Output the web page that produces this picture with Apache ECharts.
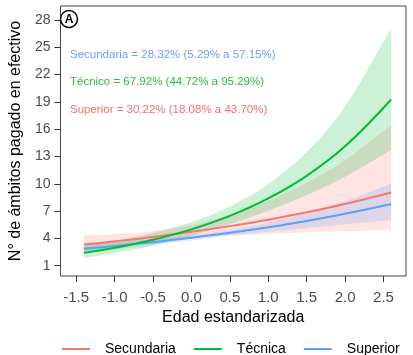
<!DOCTYPE html>
<html><head><meta charset="utf-8">
<script src="https://cdn.jsdelivr.net/npm/echarts@6/dist/echarts.min.js"></script>
<style>html,body{margin:0;padding:0;background:#fff}#c{width:413px;height:355px}</style>
</head><body><div id="c"></div><script>
// Edad estandarizada (x positions of the fitted curves)
const xs = [-1.4, -1.0, -0.5, 0, 0.5, 1.0, 1.5, 2.0, 2.6];
// Secundaria
const secFit = [3.33, 3.68, 4.16, 4.72, 5.35, 6.06, 6.87, 7.78, 9.04];
const secLo  = [2.57, 3.02, 3.61, 4.07, 4.33, 4.51, 4.66, 4.80, 4.96];
const secHi  = [4.32, 4.48, 4.80, 5.48, 6.61, 8.14, 10.12, 12.61, 16.47];
// Técnica
const tecFit = [2.41, 2.97, 3.85, 4.99, 6.47, 8.39, 10.88, 14.12, 19.27];
const tecLo  = [1.84, 2.37, 3.21, 4.29, 5.57, 7.05, 8.76, 10.78, 13.72];
const tecHi  = [3.16, 3.73, 4.61, 5.81, 7.51, 9.98, 13.51, 18.50, 27.07];
// Superior
const supFit = [2.87, 3.17, 3.59, 4.07, 4.61, 5.22, 5.91, 6.70, 7.78];
const supLo  = [2.47, 2.81, 3.28, 3.79, 4.31, 4.74, 5.13, 5.55, 6.03];
const supHi  = [3.33, 3.57, 3.93, 4.37, 4.93, 5.75, 6.80, 8.09, 10.04];

const xTicks = [-1.5, -1.0, -0.5, 0, 0.5, 1.0, 1.5, 2.0, 2.5];
const yTicks = [1, 4, 7, 10, 13, 16, 19, 22, 25, 28];
const seriesNames = ['Secundaria', 'Técnica', 'Superior'];
const annotations = [
  'Secundaria = 28.32% (5.29% a 57.15%)',
  'Técnico = 67.92% (44.72% a 95.29%)',
  'Superior = 30.22% (18.08% a 43.70%)'
];

const FONT = 'Liberation Sans, Arial, sans-serif';
const cols = ['#F8766D', '#00BA38', '#619CFF'];
const bands = ['rgba(248,118,109,0.2)', 'rgba(0,186,56,0.2)', 'rgba(97,156,255,0.2)'];
const annCols = ['#6E9EF5', '#2DB845', '#F2706B'];

const fits = [secFit, tecFit, supFit];
const los = [secLo, tecLo, supLo];
const his = [secHi, tecHi, supHi];
const bandOrder = [0, 2, 1];

// Cubic Hermite (Catmull-Rom) rendering of a pixel-space polyline
function smoothPath(p) {
  const n = p.length, out = [];
  const tan = i => {
    const a = p[Math.max(i - 1, 0)], b = p[Math.min(i + 1, n - 1)];
    const f = (i === 0 || i === n - 1) ? 1 : 0.5;
    return [(b[0] - a[0]) * f, (b[1] - a[1]) * f];
  };
  for (let i = 0; i < n - 1; i++) {
    const m0 = tan(i), m1 = tan(i + 1), p0 = p[i], p1 = p[i + 1];
    for (let s = 0; s < 12; s++) {
      const t = s / 12, t2 = t * t, t3 = t2 * t;
      const h00 = 2 * t3 - 3 * t2 + 1, h10 = t3 - 2 * t2 + t, h01 = -2 * t3 + 3 * t2, h11 = t3 - t2;
      out.push([h00 * p0[0] + h10 * m0[0] + h01 * p1[0] + h11 * m1[0],
                h00 * p0[1] + h10 * m0[1] + h01 * p1[1] + h11 * m1[1]]);
    }
  }
  out.push(p[n - 1]);
  return out;
}

const series = [{
  type: 'custom', name: 'bands', silent: true, z: 1,
  data: bandOrder.map(k => [xs[0], los[k][0]]),
  renderItem: (params, api) => {
    const k = bandOrder[params.dataIndex];
    const up = xs.map((x, i) => api.coord([x, his[k][i]]));
    const dn = xs.map((x, i) => api.coord([x, los[k][i]]));
    const pts = smoothPath(up).concat(smoothPath(dn).reverse());
    return { type: 'polygon', shape: { points: pts }, style: { fill: bands[k] } };
  }
}];
[2, 0, 1].forEach(k => {
  series.push({
    type: 'line', name: seriesNames[k], data: xs.map((x, i) => [x, fits[k][i]]), smooth: 0.4,
    symbol: 'none', lineStyle: { color: cols[k], width: 2 }, itemStyle: { color: cols[k] }, z: 3
  });
});

const graphic = annotations.map((t, i) => ({
  type: 'text', x: 70, y: [55, 82, 110][i],
  style: { text: t, fill: annCols[i], font: '11.5px ' + FONT, verticalAlign: 'middle' }
}));
graphic.push({ type: 'circle', shape: { cx: 69, cy: 19, r: 8.5 }, style: { fill: '#fff', stroke: '#000', lineWidth: 1.5 }, z: 10 });
graphic.push({ type: 'text', x: 69, y: 19.5, style: { text: 'A', fill: '#000', font: 'bold 12px ' + FONT, align: 'center', verticalAlign: 'middle' }, z: 11 });

const chart = echarts.init(document.getElementById('c'));
chart.setOption({
  animation: false,
  backgroundColor: '#fff',
  textStyle: { fontFamily: FONT },
  grid: { left: 53, right: 7, top: 6, bottom: 79, show: true, borderColor: '#444', borderWidth: 1, backgroundColor: 'transparent' },
  xAxis: {
    type: 'value', min: -1.704, max: 2.793,
    axisLine: { show: false, onZero: false }, splitLine: { show: false },
    axisTick: { show: true, length: 6, lineStyle: { color: '#333' }, customValues: xTicks },
    axisLabel: { customValues: xTicks, formatter: v => v.toFixed(1), color: '#4d4d4d', fontSize: 15, margin: 14, fontFamily: FONT },
    name: 'Edad estandarizada', nameLocation: 'middle', nameGap: 33,
    nameTextStyle: { color: '#000', fontSize: 16, fontFamily: FONT }
  },
  yAxis: {
    type: 'value', min: -0.13, max: 29.54,
    axisLine: { show: false, onZero: false }, splitLine: { show: false },
    axisTick: { show: true, length: 6, lineStyle: { color: '#333' }, customValues: yTicks },
    axisLabel: { customValues: yTicks, color: '#4d4d4d', fontSize: 14, margin: 10, fontFamily: FONT },
    name: 'N° de ámbitos pagado en efectivo', nameLocation: 'middle', nameGap: 31,
    nameTextStyle: { color: '#000', fontSize: 16, fontFamily: FONT }
  },
  legend: {
    data: seriesNames, left: 57, top: 337, icon: 'rect', itemWidth: 28, itemHeight: 2,
    itemGap: 18, textStyle: { fontSize: 14, color: '#000', fontFamily: FONT, padding: [0, 0, 0, 10] }
  },
  graphic: graphic,
  series: series
});
</script></body></html>
